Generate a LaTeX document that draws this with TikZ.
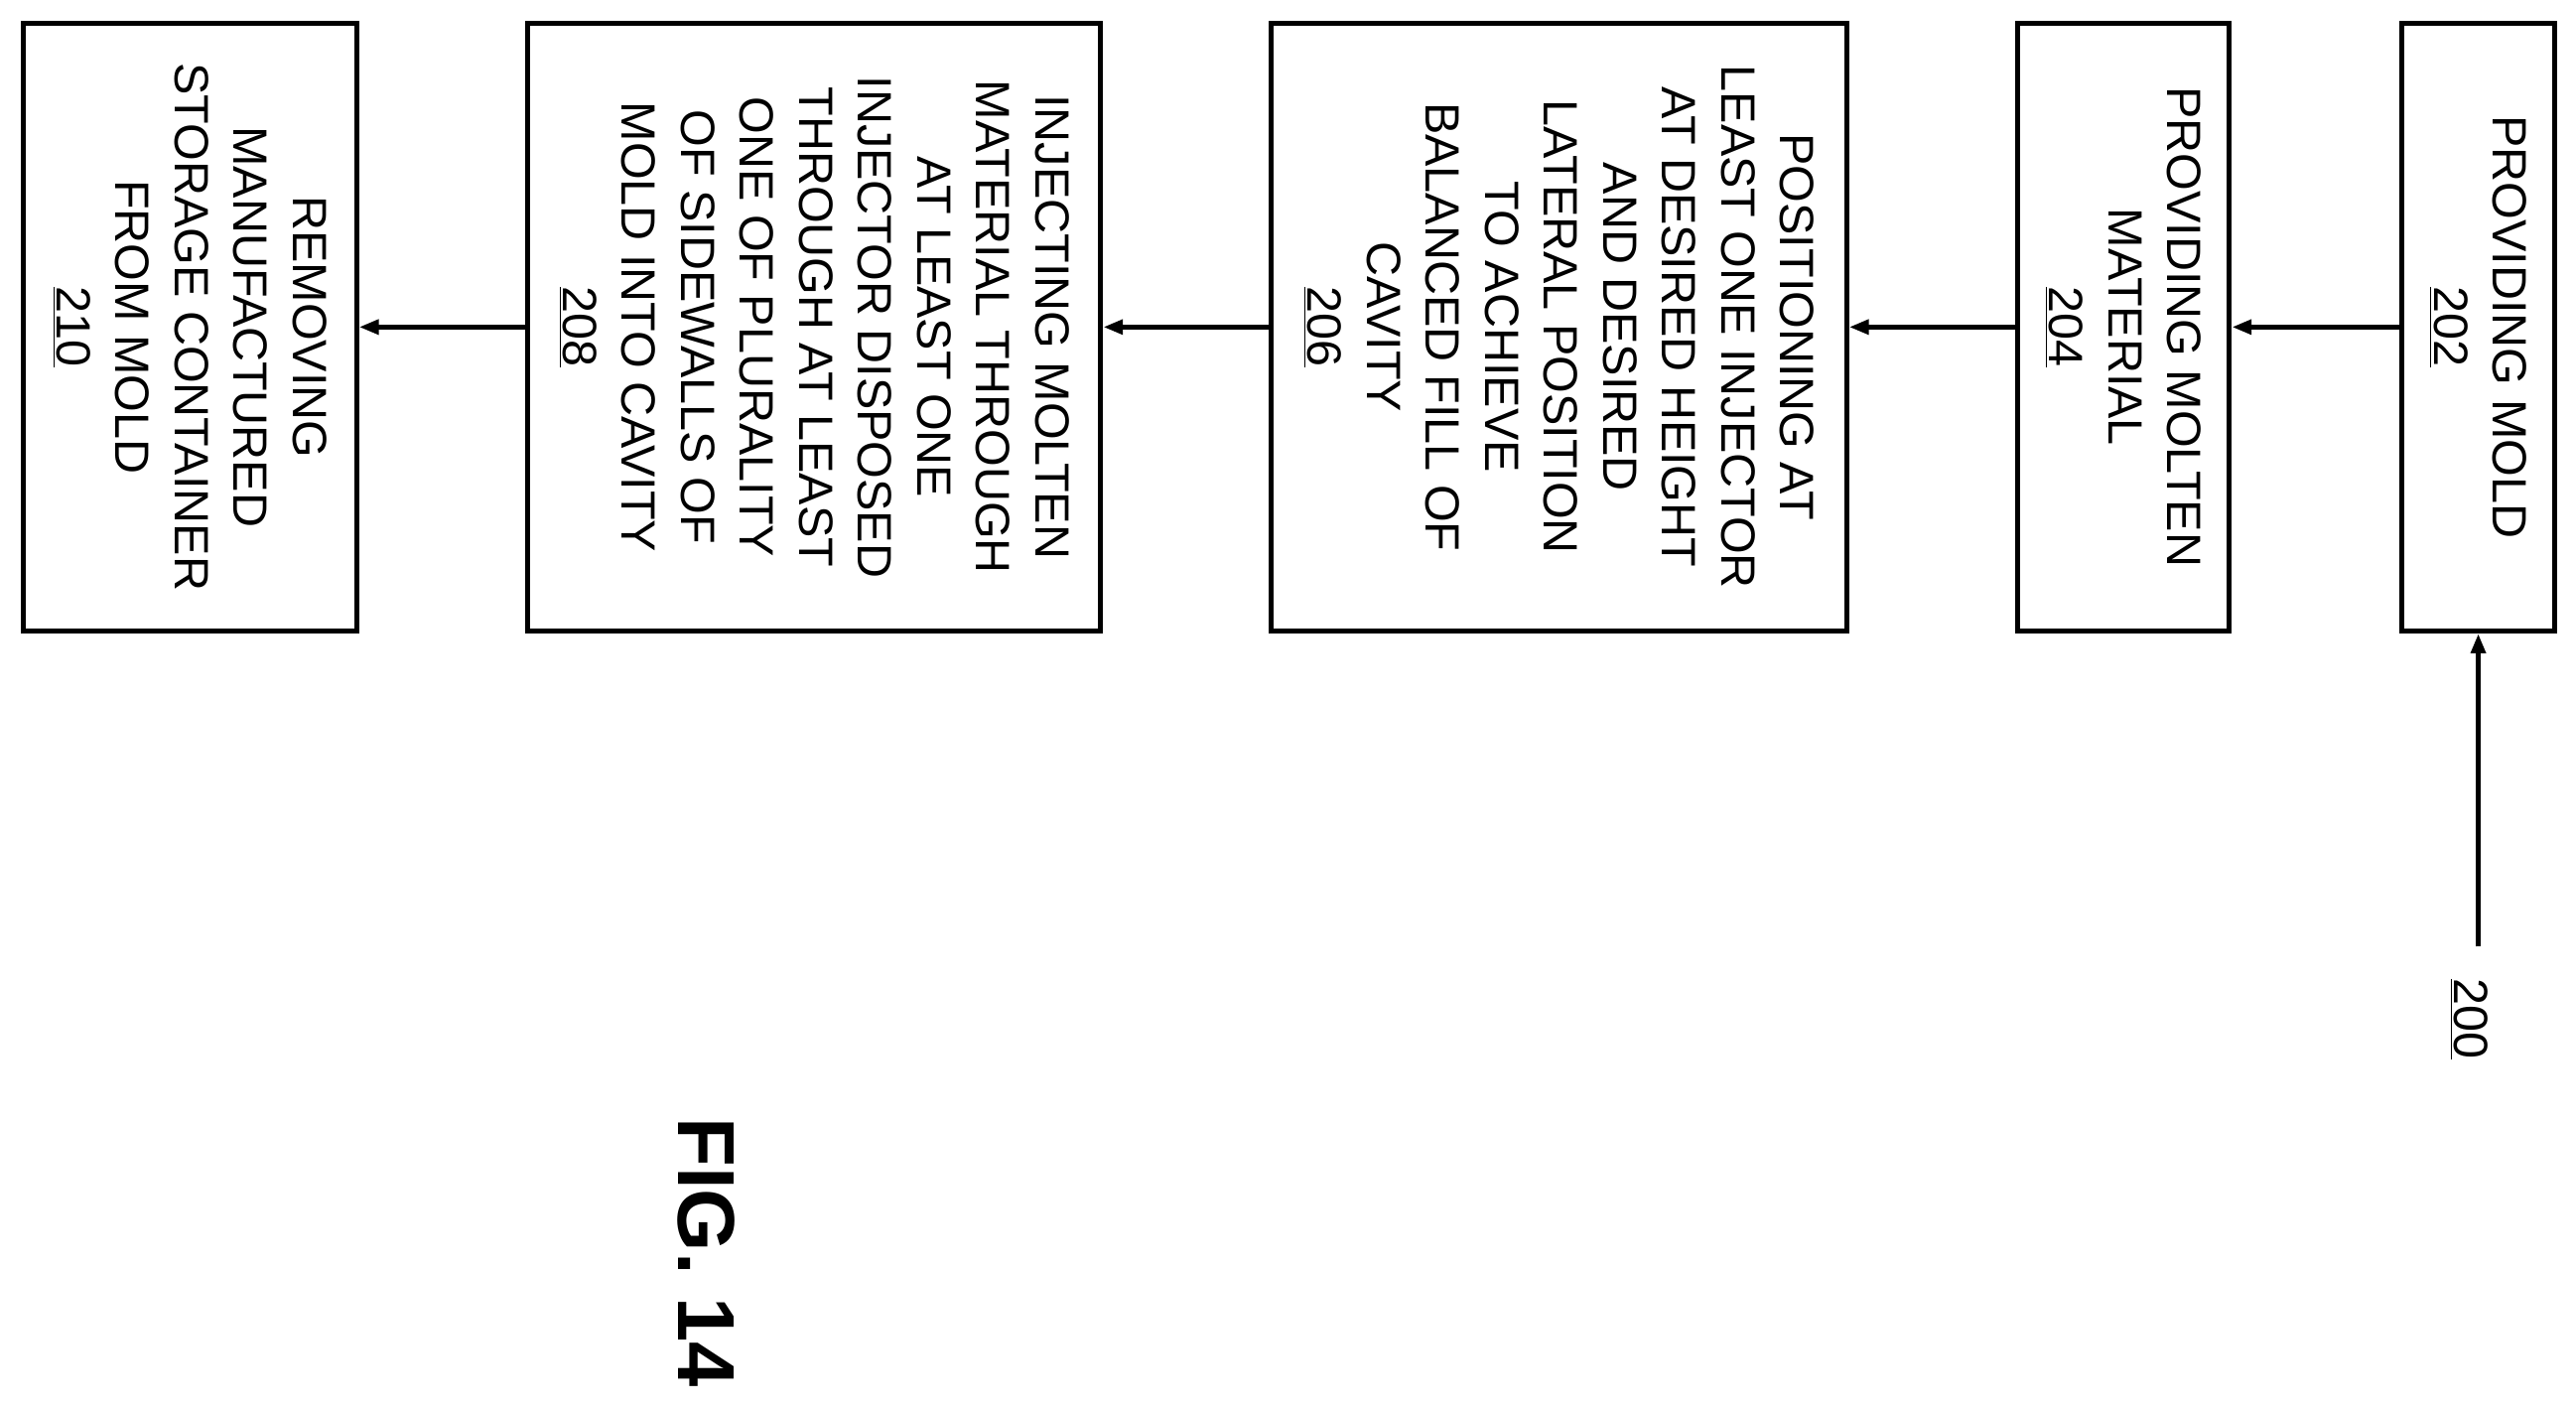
\documentclass[tikz,border=0pt]{standalone}
\usepackage{fontspec}
\setmainfont{Liberation Sans}
\usetikzlibrary{arrows.meta,positioning}
\tikzset{>={Triangle[width=2.6mm,length=3.6mm]}}
\tikzset{block/.style = {draw, line width=2.6pt, rectangle, rotate=-90,
                  minimum width=11.1cm, align=center, inner sep=0pt,
                  font=\fontsize{25}{30.7}\selectfont},
        flow/.style = {->, line width=2.6pt}
    }

\begin{document}
\begin{tikzpicture}[x=0.03cm, y=-0.03cm]
  \useasboundingbox (0,0) rectangle (1568,857);
  % process steps
  \node[block, minimum height=2.79cm] (b202) at (1508.5,199) {PROVIDING MOLD\\\underline{202}};
  \node[block, minimum height=3.87cm] (b204) at (1292.5,199) {PROVIDING MOLTEN\\MATERIAL\\\underline{204}};
  \node[block, minimum height=10.5cm] (b206) at (949,199) {POSITIONING AT\\LEAST ONE INJECTOR\\AT DESIRED HEIGHT\\AND DESIRED\\LATERAL POSITION\\TO ACHIEVE\\BALANCED FILL OF\\CAVITY\\\underline{206}};
  \node[block, minimum height=10.47cm] (b208) at (495.5,199) {INJECTING MOLTEN\\MATERIAL THROUGH\\AT LEAST ONE\\INJECTOR DISPOSED\\THROUGH AT LEAST\\ONE OF PLURALITY\\OF SIDEWALLS OF\\MOLD INTO CAVITY\\\underline{208}};
  \node[block, minimum height=6.09cm] (b210) at (115.5,199) {REMOVING\\MANUFACTURED\\STORAGE CONTAINER\\FROM MOLD\\\underline{210}};
  \foreach \a/\b in {202/204,204/206,206/208,208/210}
    \draw[flow] (b\a) -- (b\b);
  % reference numeral
  \coordinate (c200) at (1508.5,576);
  \draw[flow] (c200) -- (b202);
  \node[rotate=-90, font=\fontsize{25}{30.7}\selectfont] (n200) at (1503,620) {\underline{200}};
  \node[rotate=-90, font=\fontsize{42}{48}\selectfont\bfseries] (fig) at (430,762) {FIG. 14};
\end{tikzpicture}
\end{document}
